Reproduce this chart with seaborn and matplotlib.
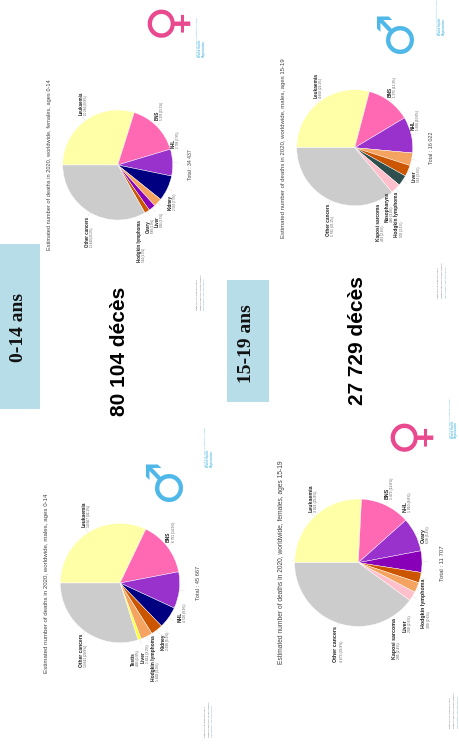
import numpy as np
import matplotlib
matplotlib.use('Agg')
import matplotlib.pyplot as plt
import seaborn as sns

# values, order = clockwise from the left of each pie
f014_names = ['Leukaemia', 'BNS', 'NHL', 'Kidney', 'Liver', 'Ovary', 'Hodgkin lymphoma', 'Other cancers']
f014_values = [10284, 5333, 2709, 2592, 866, 689, 524, 11440]
f014_colors = ['#FFFFA8', '#FF69B4', '#9932CC', '#000080', '#F4A460', '#8800B8', '#CC5500', '#CCCCCC']

m1519_names = ['Leukaemia', 'BNS', 'NHL', 'Liver', 'Hodgkin lymphoma', 'Nasopharynx', 'Kaposi sarcoma', 'Other cancers']
m1519_values = [4660, 1975, 1608, 563, 502, 480, 453, 5781]
m1519_colors = ['#FFFFA8', '#FF69B4', '#9932CC', '#F4A460', '#CC5500', '#2F4F4F', '#FFC0CB', '#CCCCCC']

m014_names = ['Leukaemia', 'BNS', 'NHL', 'Kidney', 'Hodgkin lymphoma', 'Liver', 'Testis', 'Other cancers']
m014_values = [14667, 6791, 4520, 2690, 1492, 1461, 405, 13641]
m014_colors = ['#FFFFA8', '#FF69B4', '#9932CC', '#000080', '#CC5500', '#F4A460', '#FFFF33', '#CCCCCC']

f1519_names = ['Leukaemia', 'BNS', 'NHL', 'Ovary', 'Hodgkin lymphoma', 'Liver', 'Kaposi sarcoma', 'Other cancers']
f1519_values = [3021, 1472, 1010, 638, 309, 299, 285, 4673]
f1519_colors = ['#FFFFA8', '#FF69B4', '#9932CC', '#8800B8', '#CC5500', '#F4A460', '#FFC0CB', '#CCCCCC']

# label places in pixels: name x, value x, bottom y
f014_pos = [(81.7, 86, 115), (157.3, 161.7, 120), (173.3, 178, 148.3), (170, 174.7, 210),
            (157.3, 162.3, 226.7), (148.7, 153, 232.7), (139.3, 144, 261.7), (87.3, 92.3, 247)]
m1519_pos = [(315.7, 320.7, 97.7), (390, 395, 96.7), (413.3, 418, 130), (414, 418.7, 181.7),
             (396.7, 401.7, 236.7), (387, 392, 221.7), (378.3, 383.3, 241), (328.3, 332.7, 236)]
m014_pos = [(84.3, 89.3, 527.3), (168.3, 173.7, 541.7), (180, 185, 621.7), (162.7, 167.7, 650),
            (153.3, 158.3, 680.7), (143.3, 148.3, 663.3), (133, 137.7, 666), (81.7, 86.3, 667.3)]
f1519_pos = [(310.7, 316, 511.7), (386.7, 391.7, 499), (405, 410, 511.7), (423.3, 428.3, 543.3),
             (424, 429, 628.3), (404.7, 409.7, 631.7), (394.3, 399.3, 659.3), (336, 341.7, 661.7)]

W, H = 460, 745
BLUE = '#B7DDE9'
LOGO = '#55BDE3'


def fmt(n):
    return f'{n:,}'.replace(',', ' ')


def draw_pie(fig, over, cx, cy, r, names, values, colors, pos, title, title_x, total_x):
    pad = 1.1
    s = r / 57  # each panel of the page has its own scale
    ax = fig.add_axes([(cx - r * pad) / W, 1 - (cy + r * pad) / H, 2 * r * pad / W, 2 * r * pad / H])
    ax.pie(values, colors=colors, startangle=180, counterclock=False, radius=1,
           wedgeprops={'edgecolor': 'white', 'linewidth': 0.3})
    ax.set_xlim(-pad, pad)
    ax.set_ylim(-pad, pad)
    total = sum(values)
    edges = np.cumsum([0] + values) / total * 360
    for name, v, p, a, b in zip(names, values, pos, edges[:-1], edges[1:]):
        # leader line out of the middle of the slice
        mid = np.radians(180 - (a + b) / 2)
        over.plot([cx + r * np.cos(mid), cx + 1.09 * r * np.cos(mid)],
                  [cy - r * np.sin(mid), cy - 1.09 * r * np.sin(mid)], color='#DDDDDD', lw=0.3)
        over.text(p[0], p[2], name, rotation=90, ha='center', va='bottom', fontsize=3.4 * s,
                  fontweight='bold', color='#222222')
        over.text(p[1], p[2], f'{fmt(v)} ({v / total * 100:.1f}%)', rotation=90, ha='center',
                  va='bottom', fontsize=2.2 * s, color='#555555')
    over.text(title_x, cy, title, rotation=90, ha='center', va='center', fontsize=4.25 * s, color='#444444')
    over.text(total_x, cy, f'Total : {fmt(total)}', rotation=90, ha='center', va='center',
              fontsize=3.85 * s, color='#444444')


def draw_footer(over, xs, y):
    lines = ['Data source: Globocan 2020', 'Graph production: Global Cancer', 'Observatory (http://gco.iarc.fr)']
    colors = ['#666666', '#666666', '#6FA8C8']
    for x, line, c in zip(xs, lines, colors):
        over.text(x, y, line, rotation=90, ha='center', va='bottom', fontsize=1.75, color=c)


def draw_logo(over, x, y, size=1.45):
    over.text(x, y, 'International Agency for Research on Cancer', rotation=90, ha='center', va='bottom',
              fontsize=size, color=LOGO)
    over.text(x + 4.5, y, 'World Health\nOrganization', rotation=90, ha='center', va='bottom',
              fontsize=2.0, fontweight='bold', color=LOGO, linespacing=0.9)


sns.set_theme(style='white')
plt.rcParams['font.family'] = ['Liberation Sans', 'DejaVu Sans']

fig = plt.figure(figsize=(W / 100, H / 100), dpi=100)
over = fig.add_axes([0, 0, 1, 1], zorder=5)
over.set_xlim(0, W)
over.set_ylim(H, 0)
over.axis('off')
over.patch.set_alpha(0)

draw_pie(fig, over, 117.7, 165, 55, f014_names, f014_values, f014_colors, f014_pos,
         'Estimated number of deaths in 2020, worldwide, females, ages 0-14', 49.3, 190.7)
draw_pie(fig, over, 354.7, 147.7, 58, m1519_names, m1519_values, m1519_colors, m1519_pos,
         'Estimated number of deaths in 2020, worldwide, males, ages 15-19', 284, 431.7)
draw_pie(fig, over, 120, 583, 59.7, m014_names, m014_values, m014_colors, m014_pos,
         'Estimated number of deaths in 2020, worldwide, males, ages 0-14', 46.7, 198.3)
draw_pie(fig, over, 358.3, 562.7, 63.7, f1519_names, f1519_values, f1519_colors, f1519_pos,
         'Estimated number of deaths in 2020, worldwide, females, ages 15-19', 281.7, 442.3)

# age boxes
over.fill_between([0, 40], 244, 409, color=BLUE, lw=0)
over.fill_between([227, 269], 280, 402, color=BLUE, lw=0)
over.text(18.3, 327, '0-14 ans', rotation=90, ha='center', va='center', fontsize=14,
          fontweight='bold', family='Liberation Serif', color='#111111')
over.text(246.7, 344, '15-19 ans', rotation=90, ha='center', va='center', fontsize=14,
          fontweight='bold', family='Liberation Serif', color='#111111')

over.text(120, 351, '80 104 décès', rotation=90, ha='center', va='center', fontsize=15,
          fontweight='bold', color='black')
over.text(357.3, 341, '27 729 décès', rotation=90, ha='center', va='center', fontsize=15,
          fontweight='bold', color='black')

# sex symbols
for x, y, s, c in [(166, 18.5, '\u2640', '#E9488E'), (396, 32, '\u2642', '#4DB8E8'),
                   (165.5, 480, '\u2642', '#4DB8E8'), (409, 432.5, '\u2640', '#E9488E')]:
    over.text(x, y, s, rotation=90, ha='center', va='center', fontsize=36, color=c,
              family='DejaVu Sans')

draw_footer(over, (197.3, 201, 204.3), 310)
draw_footer(over, (438.7, 442.7, 446.7), 298.3)
draw_footer(over, (205.7, 209.3, 212.7), 737)
draw_footer(over, (450.7, 454.7, 458.3), 728)

draw_logo(over, 197.7, 56.7)
draw_logo(over, 437.5, 35, size=1.25)
draw_logo(over, 205.5, 466.7)
draw_logo(over, 450, 438)

fig.savefig('out.png', dpi=100)
